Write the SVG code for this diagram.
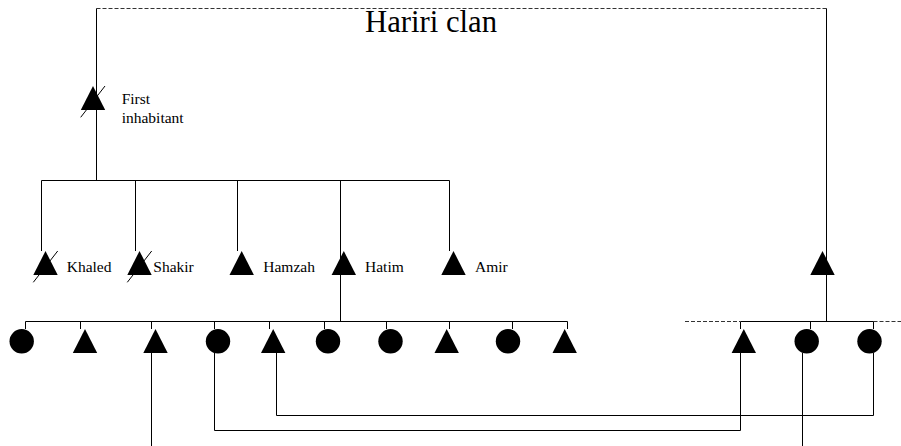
<svg xmlns="http://www.w3.org/2000/svg" width="901" height="446" viewBox="0 0 901 446">
<defs>
<style>
.ln{fill:none;stroke:#000;stroke-width:1}
.ds{fill:none;stroke:#333;stroke-width:1;stroke-dasharray:4 2}
.sh{fill:#000;stroke:none}
.sl{stroke:#000;stroke-width:1}
.t{font-family:"Liberation Serif","Times New Roman",serif;font-size:15.5px;fill:#000}
.ttl{font-family:"Liberation Serif","Times New Roman",serif;font-size:30.7px;fill:#000}
</style>
<polygon id="tri" points="-12.2,24 12.2,24 0,0"/>
</defs>
<rect width="901" height="446" fill="#fff"/>
<text class="ttl" x="365" y="31.7">Hariri clan</text>
<g id="connectors">
<path class="ds" d="M96.5,8.5 H826.5"/>
<path class="ln" d="M96.5,8.5 V180.5"/>
<path class="ln" d="M826.5,8.5 V321.5"/>
<path class="ln" d="M41.5,180.5 H449.5"/>
<path class="ln" d="M41.5,180.5 V251 M135.5,180.5 V251 M237.5,180.5 V251 M340.5,180.5 V321.5 M449.5,180.5 V251"/>
<path class="ln" d="M25.5,321.5 H567.5"/>
<path class="ln" d="M25.5,321.5 V329 M80.5,321.5 V329 M151.5,321.5 V329 M214.5,321.5 V329 M269.5,321.5 V329 M324.5,321.5 V329 M386.5,321.5 V329 M449.5,321.5 V329 M512.5,321.5 V329 M567.5,321.5 V329"/>
<path class="ds" d="M685,321.5 H740"/>
<path class="ln" d="M740.5,321.5 H873.5"/>
<path class="ds" d="M873.5,321.5 H901"/>
<path class="ln" d="M740.5,321.5 V329 M810.5,321.5 V329 M873.5,321.5 V329"/>
<path class="ln" d="M151.5,353 V446"/>
<path class="ln" d="M214.5,353 V430.5 H740.5 V353"/>
<path class="ln" d="M276.5,353 V415.5 H873.5 V353"/>
<path class="ln" d="M802.5,353 V446"/>
</g>
<g id="first-inhabitant">
<use href="#tri" class="sh" x="93" y="86"/>
<line class="sl" x1="80.7" y1="117.3" x2="105" y2="86"/>
<text class="t" x="121.7" y="104.3">First</text>
<text class="t" x="121.7" y="123.3">inhabitant</text>
</g>
<g id="khaled">
<use href="#tri" class="sh" x="45.5" y="251"/>
<line class="sl" x1="33.3" y1="282.3" x2="57.7" y2="251"/>
<text class="t" x="66.7" y="272.3">Khaled</text>
</g>
<g id="shakir">
<use href="#tri" class="sh" x="139.5" y="251"/>
<line class="sl" x1="127.3" y1="282.3" x2="151.7" y2="251"/>
<text class="t" x="153.3" y="272.3">Shakir</text>
</g>
<g id="hamzah">
<use href="#tri" class="sh" x="241.7" y="251"/>
<text class="t" x="263.3" y="272.3">Hamzah</text>
</g>
<g id="hatim">
<use href="#tri" class="sh" x="343.8" y="251"/>
<text class="t" x="365" y="272.3">Hatim</text>
</g>
<g id="amir">
<use href="#tri" class="sh" x="453.5" y="251"/>
<text class="t" x="475" y="272.3">Amir</text>
</g>
<g id="right-parent">
<use href="#tri" class="sh" x="822.5" y="251"/>
</g>
<g id="c1"><circle class="sh" cx="21.7" cy="341.3" r="12.2"/></g>
<g id="c2"><use href="#tri" class="sh" x="85" y="329"/></g>
<g id="c3"><use href="#tri" class="sh" x="155.5" y="329"/></g>
<g id="c4"><circle class="sh" cx="218" cy="341.3" r="12.2"/></g>
<g id="c5"><use href="#tri" class="sh" x="273.2" y="329"/></g>
<g id="c6"><circle class="sh" cx="328" cy="341.3" r="12.2"/></g>
<g id="c7"><circle class="sh" cx="390.5" cy="341.3" r="12.2"/></g>
<g id="c8"><use href="#tri" class="sh" x="446.7" y="329"/></g>
<g id="c9"><circle class="sh" cx="508" cy="341.3" r="12.2"/></g>
<g id="c10"><use href="#tri" class="sh" x="564.7" y="329"/></g>
<g id="r1"><use href="#tri" class="sh" x="743.8" y="329"/></g>
<g id="r2"><circle class="sh" cx="806.7" cy="341.3" r="12.2"/></g>
<g id="r3"><circle class="sh" cx="869.5" cy="341.3" r="12.2"/></g>
</svg>
